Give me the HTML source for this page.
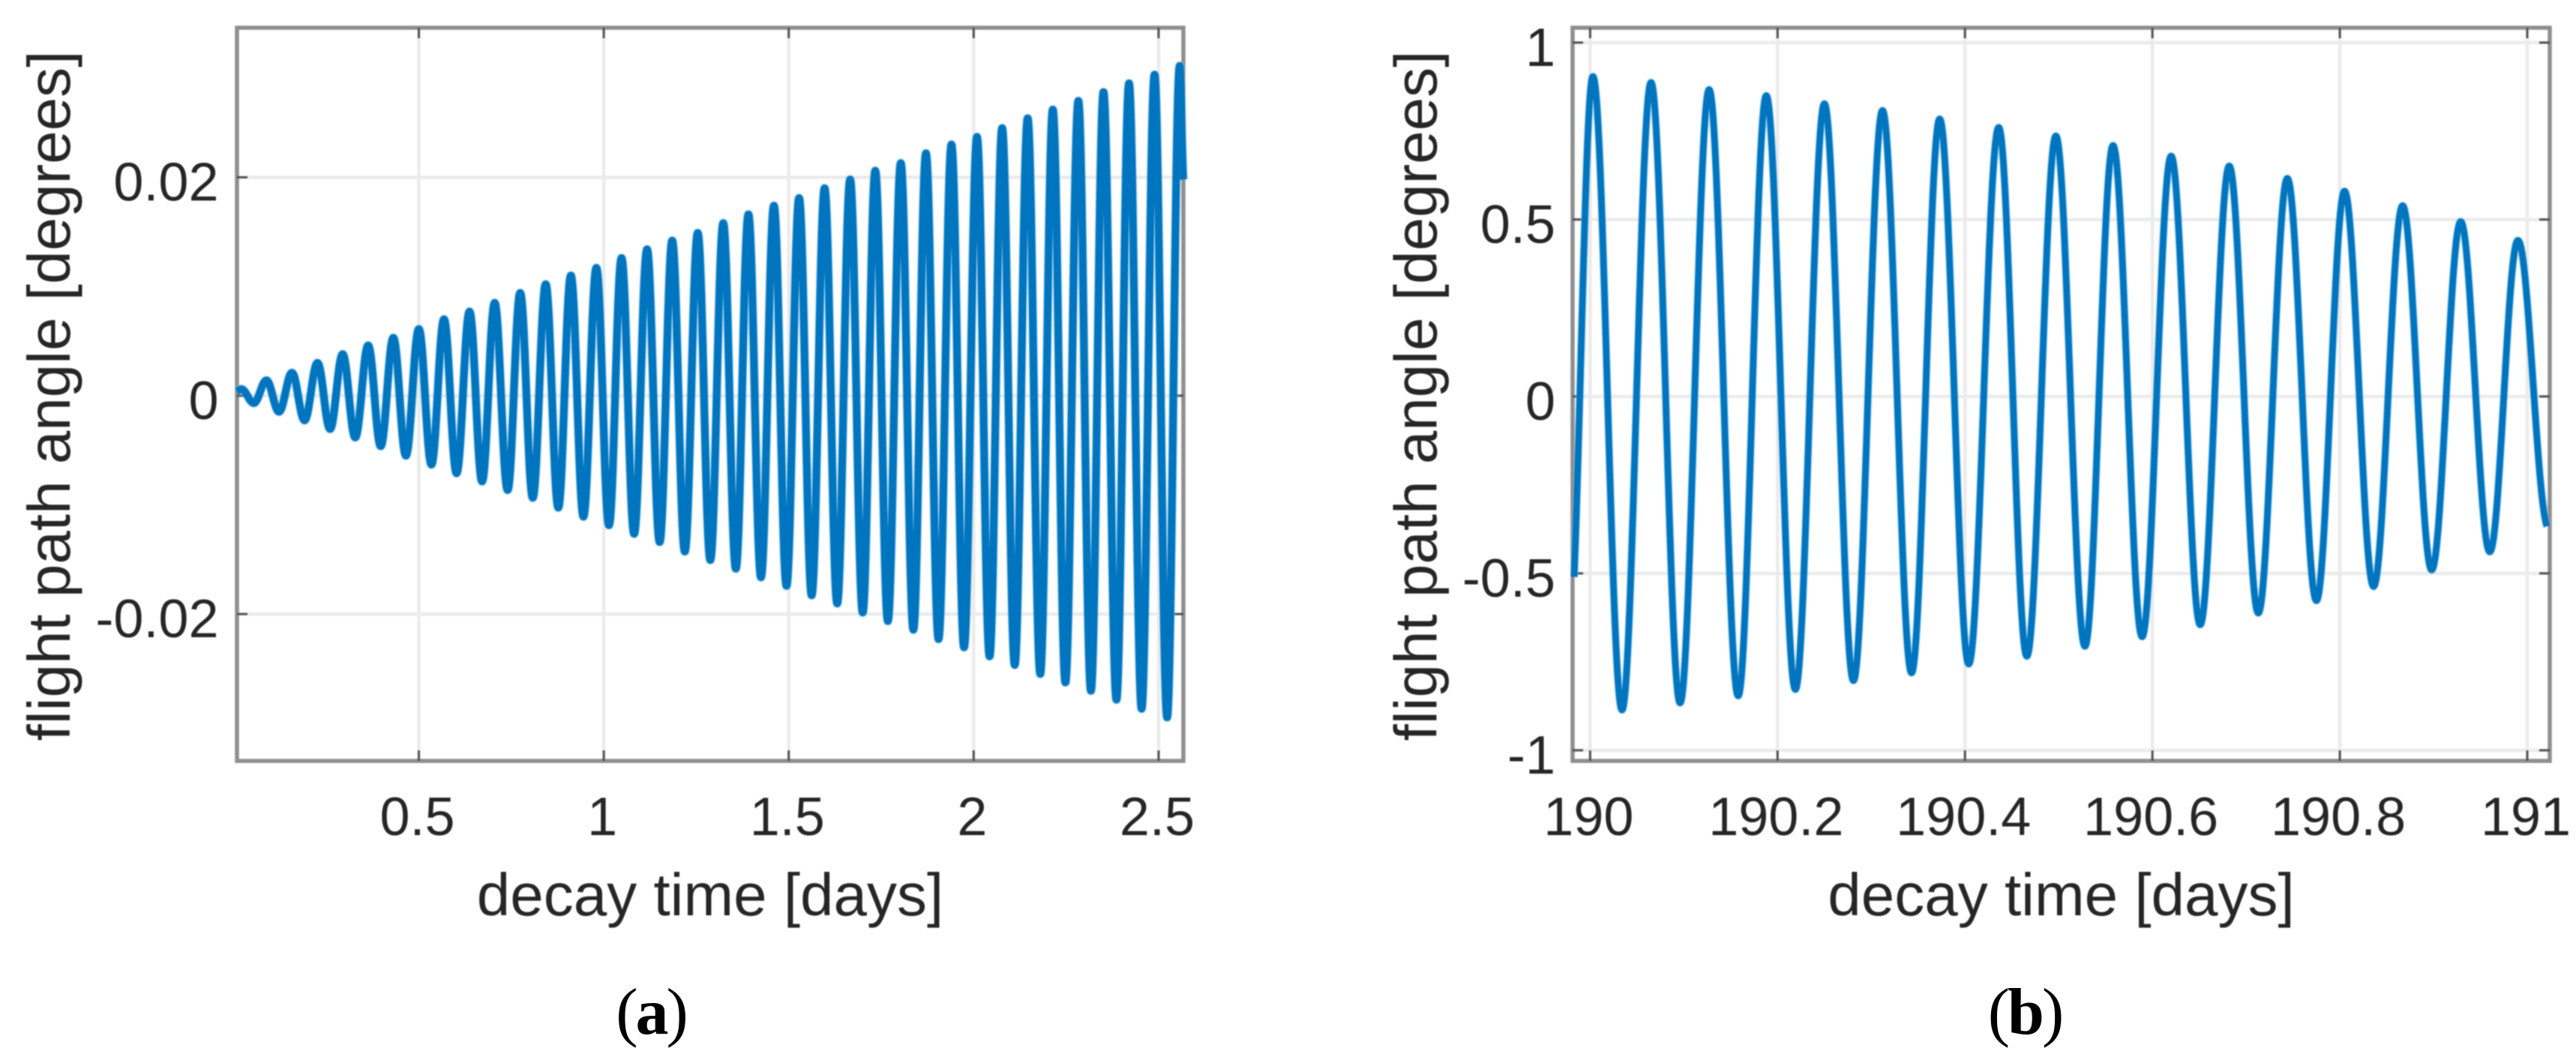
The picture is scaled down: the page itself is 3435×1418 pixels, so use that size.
<!DOCTYPE html>
<html lang="en">
<head>
<meta charset="utf-8">
<title>Flight path angle vs decay time</title>
<style>
  html, body { margin: 0; padding: 0; background: #ffffff; }
  #figure { display: block; width: 3435px; height: 1418px; }
  #panel-a, #panel-b { filter: blur(0.7px); }
  text { font-family: "Liberation Sans", Arial, sans-serif; fill: #262626; }
  .caption { font-family: "Liberation Serif", "Times New Roman", serif; fill: #000000; letter-spacing: -3px; }
</style>
</head>
<body>
<svg id="figure" xmlns="http://www.w3.org/2000/svg" width="3435" height="1418" viewBox="0 0 3435 1418">
  <rect x="0" y="0" width="3435" height="1418" fill="#ffffff"/>
  <g id="panel-a"></g>
  <g id="panel-b"></g>
  <text class="caption" x="868" y="1379" font-size="88" text-anchor="middle">(<tspan font-weight="bold">a</tspan>)</text>
  <text class="caption" x="2700" y="1379" font-size="88" text-anchor="middle">(<tspan font-weight="bold">b</tspan>)</text>
</svg>
<script>
// Panel (a) data: turning points of the oscillation
const aXTicks = [0.5, 1, 1.5, 2, 2.5];
const aXTickLabels = ['0.5', '1', '1.5', '2', '2.5'];
const aYTicks = [-0.02, 0, 0.02];
const aYTickLabels = ['-0.02', '0', '0.02'];
const aStart = [0.0083, 0.0004];
const aEnd = [2.567, 0.0198];
const aPeakTimes = [0.020,0.088,0.157,0.226,0.294,0.363,0.431,0.500,0.568,0.637,0.705,0.774,0.843,0.911,0.980,1.048,1.117,1.185,1.254,1.323,1.391,1.460,1.528,1.597,1.666,1.734,1.803,1.871,1.940,2.009,2.077,2.146,2.214,2.283,2.351,2.420,2.489,2.557];
const aPeakValues = [0.0006,0.0014,0.0021,0.0030,0.0038,0.0046,0.0053,0.0061,0.0070,0.0077,0.0085,0.0094,0.0102,0.0110,0.0117,0.0126,0.0134,0.0142,0.0149,0.0158,0.0166,0.0174,0.0181,0.0190,0.0198,0.0206,0.0213,0.0222,0.0230,0.0237,0.0245,0.0254,0.0262,0.0270,0.0278,0.0286,0.0294,0.0302];
const aTroughTimes = [0.054,0.122,0.191,0.260,0.328,0.397,0.465,0.534,0.602,0.671,0.740,0.808,0.877,0.945,1.014,1.082,1.151,1.219,1.288,1.357,1.425,1.494,1.562,1.631,1.700,1.768,1.837,1.905,1.974,2.043,2.111,2.180,2.248,2.317,2.386,2.454,2.523];
const aTroughValues = [-0.00068,-0.00147,-0.00226,-0.00305,-0.00383,-0.00462,-0.00549,-0.00631,-0.0071,-0.00785,-0.00864,-0.00935,-0.01025,-0.01108,-0.01186,-0.01265,-0.0134,-0.01427,-0.01505,-0.01584,-0.01663,-0.01742,-0.01828,-0.01903,-0.01986,-0.02064,-0.02143,-0.02229,-0.02304,-0.02387,-0.02466,-0.02548,-0.02626,-0.02702,-0.02784,-0.02867,-0.02946];

// Panel (b) data
const bXTicks = [190, 190.2, 190.4, 190.6, 190.8, 191];
const bXTickLabels = ['190', '190.2', '190.4', '190.6', '190.8', '191'];
const bYTicks = [-1, -0.5, 0, 0.5, 1];
const bYTickLabels = ['-1', '-0.5', '0', '0.5', '1'];
const bStart = [189.983, -0.51];
const bEnd = [191.021, -0.367];
const bPeakTimes = [190.003,190.065,190.127,190.188,190.250,190.312,190.373,190.436,190.497,190.558,190.620,190.682,190.744,190.805,190.867,190.929,190.990];
const bPeakValues = [0.904,0.887,0.867,0.850,0.827,0.808,0.784,0.760,0.736,0.709,0.679,0.651,0.616,0.580,0.539,0.494,0.441];
const bTroughTimes = [190.034,190.096,190.158,190.219,190.281,190.343,190.404,190.466,190.528,190.589,190.651,190.713,190.775,190.836,190.898,190.960];
const bTroughValues = [-0.886,-0.866,-0.846,-0.828,-0.803,-0.781,-0.756,-0.734,-0.706,-0.679,-0.645,-0.612,-0.577,-0.537,-0.490,-0.439];

const SVG_NS = 'http://www.w3.org/2000/svg';
const AXIS_COLOR = '#8f8f8f';
const TICK_COLOR = '#555555';
const GRID_COLOR = '#ebebeb';
const LINE_COLOR = '#0075bf';
const HALO_COLOR = '#7cbde2';

function make(tag, parent, attrs) {
  const el = document.createElementNS(SVG_NS, tag);
  for (const k in attrs) el.setAttribute(k, attrs[k]);
  parent.appendChild(el);
  return el;
}

function drawPanel(root, box, xDomain, yDomain, xTicks, xLabels, yTicks, yLabels, start, end, peakT, peakV, troughT, troughV, layout) {
  const xScale = v => box.left + (v - xDomain[0]) / (xDomain[1] - xDomain[0]) * (box.right - box.left);
  const yScale = v => box.bottom - (v - yDomain[0]) / (yDomain[1] - yDomain[0]) * (box.bottom - box.top);

  // Grid lines
  xTicks.forEach(t => {
    const el = make('line', root, { x1: xScale(t), x2: xScale(t), y1: box.top, y2: box.bottom, stroke: GRID_COLOR, 'stroke-width': 4.5 });
    
    
  });
  yTicks.forEach(t => {
    const el = make('line', root, { x1: box.left, x2: box.right, y1: yScale(t), y2: yScale(t), stroke: GRID_COLOR, 'stroke-width': 4.5 });
    
    
  });

  // Axes box
  const frame = make('rect', root, { x: box.left, y: box.top, width: box.right - box.left, height: box.bottom - box.top, fill: 'none', stroke: AXIS_COLOR, 'stroke-width': 5.5 });
  
  

  // Tick marks on all four sides
  const tickLen = 14;
  xTicks.forEach(t => {
    const lower = make('line', root, { x1: xScale(t), x2: xScale(t), y1: box.bottom, y2: box.bottom - tickLen, stroke: TICK_COLOR, 'stroke-width': 3 });
    
    
    const upper = make('line', root, { x1: xScale(t), x2: xScale(t), y1: box.top, y2: box.top + tickLen, stroke: TICK_COLOR, 'stroke-width': 3 });
    
    
  });
  yTicks.forEach(t => {
    const leftTick = make('line', root, { x1: box.left, x2: box.left + tickLen, y1: yScale(t), y2: yScale(t), stroke: TICK_COLOR, 'stroke-width': 3 });
    
    
    const rightTick = make('line', root, { x1: box.right, x2: box.right - tickLen, y1: yScale(t), y2: yScale(t), stroke: TICK_COLOR, 'stroke-width': 3 });
    
    
  });

  // Series: start point, alternating peaks and troughs, end point
  const pts = [[xScale(start[0]), yScale(start[1])]];
  peakT.forEach((t, i) => {
    pts.push([xScale(t), yScale(peakV[i])]);
    if (i < troughT.length) pts.push([xScale(troughT[i]), yScale(troughV[i])]);
  });
  pts.push([xScale(end[0]), yScale(end[1])]);

  let d = 'M' + pts[0][0].toFixed(2) + ' ' + pts[0][1].toFixed(2);
  for (let i = 1; i < pts.length; i++) {
    const p0 = pts[i - 1];
    const p1 = pts[i];
    const k = 0.3642 * (p1[0] - p0[0]);
    const c1y = i === 1 ? p0[1] + (p1[1] - p0[1]) * 0.35 : p0[1];
    const c2y = i === pts.length - 1 ? p1[1] - (p1[1] - p0[1]) * 0.1 : p1[1];
    d += 'C' + (p0[0] + k).toFixed(2) + ' ' + c1y.toFixed(2) + ' ' + (p1[0] - k).toFixed(2) + ' ' + c2y.toFixed(2) + ' ' + p1[0].toFixed(2) + ' ' + p1[1].toFixed(2);
  }
  const halo = make('path', root, { d: d, fill: 'none', stroke: HALO_COLOR, 'stroke-opacity': 0.55, 'stroke-width': layout.lineWidth + 2.6, 'stroke-linejoin': 'round', 'stroke-linecap': 'butt' });
  
  
  const curve = make('path', root, { d: d, fill: 'none', stroke: LINE_COLOR, 'stroke-width': layout.lineWidth, 'stroke-linejoin': 'round', 'stroke-linecap': 'butt' });
  
  

  // Tick labels
  xTicks.forEach((t, i) => {
    const el = make('text', root, { x: xScale(t) - 2, y: layout.xTickBaseline, 'font-size': 72, 'text-anchor': 'middle' });
    el.textContent = xLabels[i];
    
    
  });
  yTicks.forEach((t, i) => {
    const el = make('text', root, { x: layout.yTickAnchor, y: yScale(t) + 31, 'font-size': 72, 'text-anchor': 'end' });
    el.textContent = yLabels[i];
    
    
  });

  // Axis titles
  const xTitle = make('text', root, { x: (box.left + box.right) / 2, y: layout.xTitleBaseline, 'font-size': 80, 'text-anchor': 'middle' });
  xTitle.textContent = 'decay time [days]';
  
  

  const yTitle = make('text', root, { x: 0, y: 0, 'font-size': 80, 'text-anchor': 'middle', transform: 'translate(' + layout.yTitleBaseline + ' 528) rotate(-90)' });
  yTitle.textContent = 'flight path angle [degrees]';
  
  
}

drawPanel(
  document.getElementById('panel-a'),
  { left: 316, right: 1578, top: 37, bottom: 1015 },
  [0.0083, 2.567], [-0.03345, 0.0337],
  aXTicks, aXTickLabels, aYTicks, aYTickLabels,
  aStart, aEnd, aPeakTimes, aPeakValues, aTroughTimes, aTroughValues,
  { xTickBaseline: 1114, xTitleBaseline: 1221, yTickAnchor: 291.5, yTitleBaseline: 93, lineWidth: 10 }
);

drawPanel(
  document.getElementById('panel-b'),
  { left: 2097, right: 3400, top: 37, bottom: 1015 },
  [189.9813, 191.024], [-1.03, 1.042],
  bXTicks, bXTickLabels, bYTicks, bYTickLabels,
  bStart, bEnd, bPeakTimes, bPeakValues, bTroughTimes, bTroughValues,
  { xTickBaseline: 1114, xTitleBaseline: 1221, yTickAnchor: 2074, yTitleBaseline: 1915.5, lineWidth: 8.6 }
);
</script>
</body>
</html>
